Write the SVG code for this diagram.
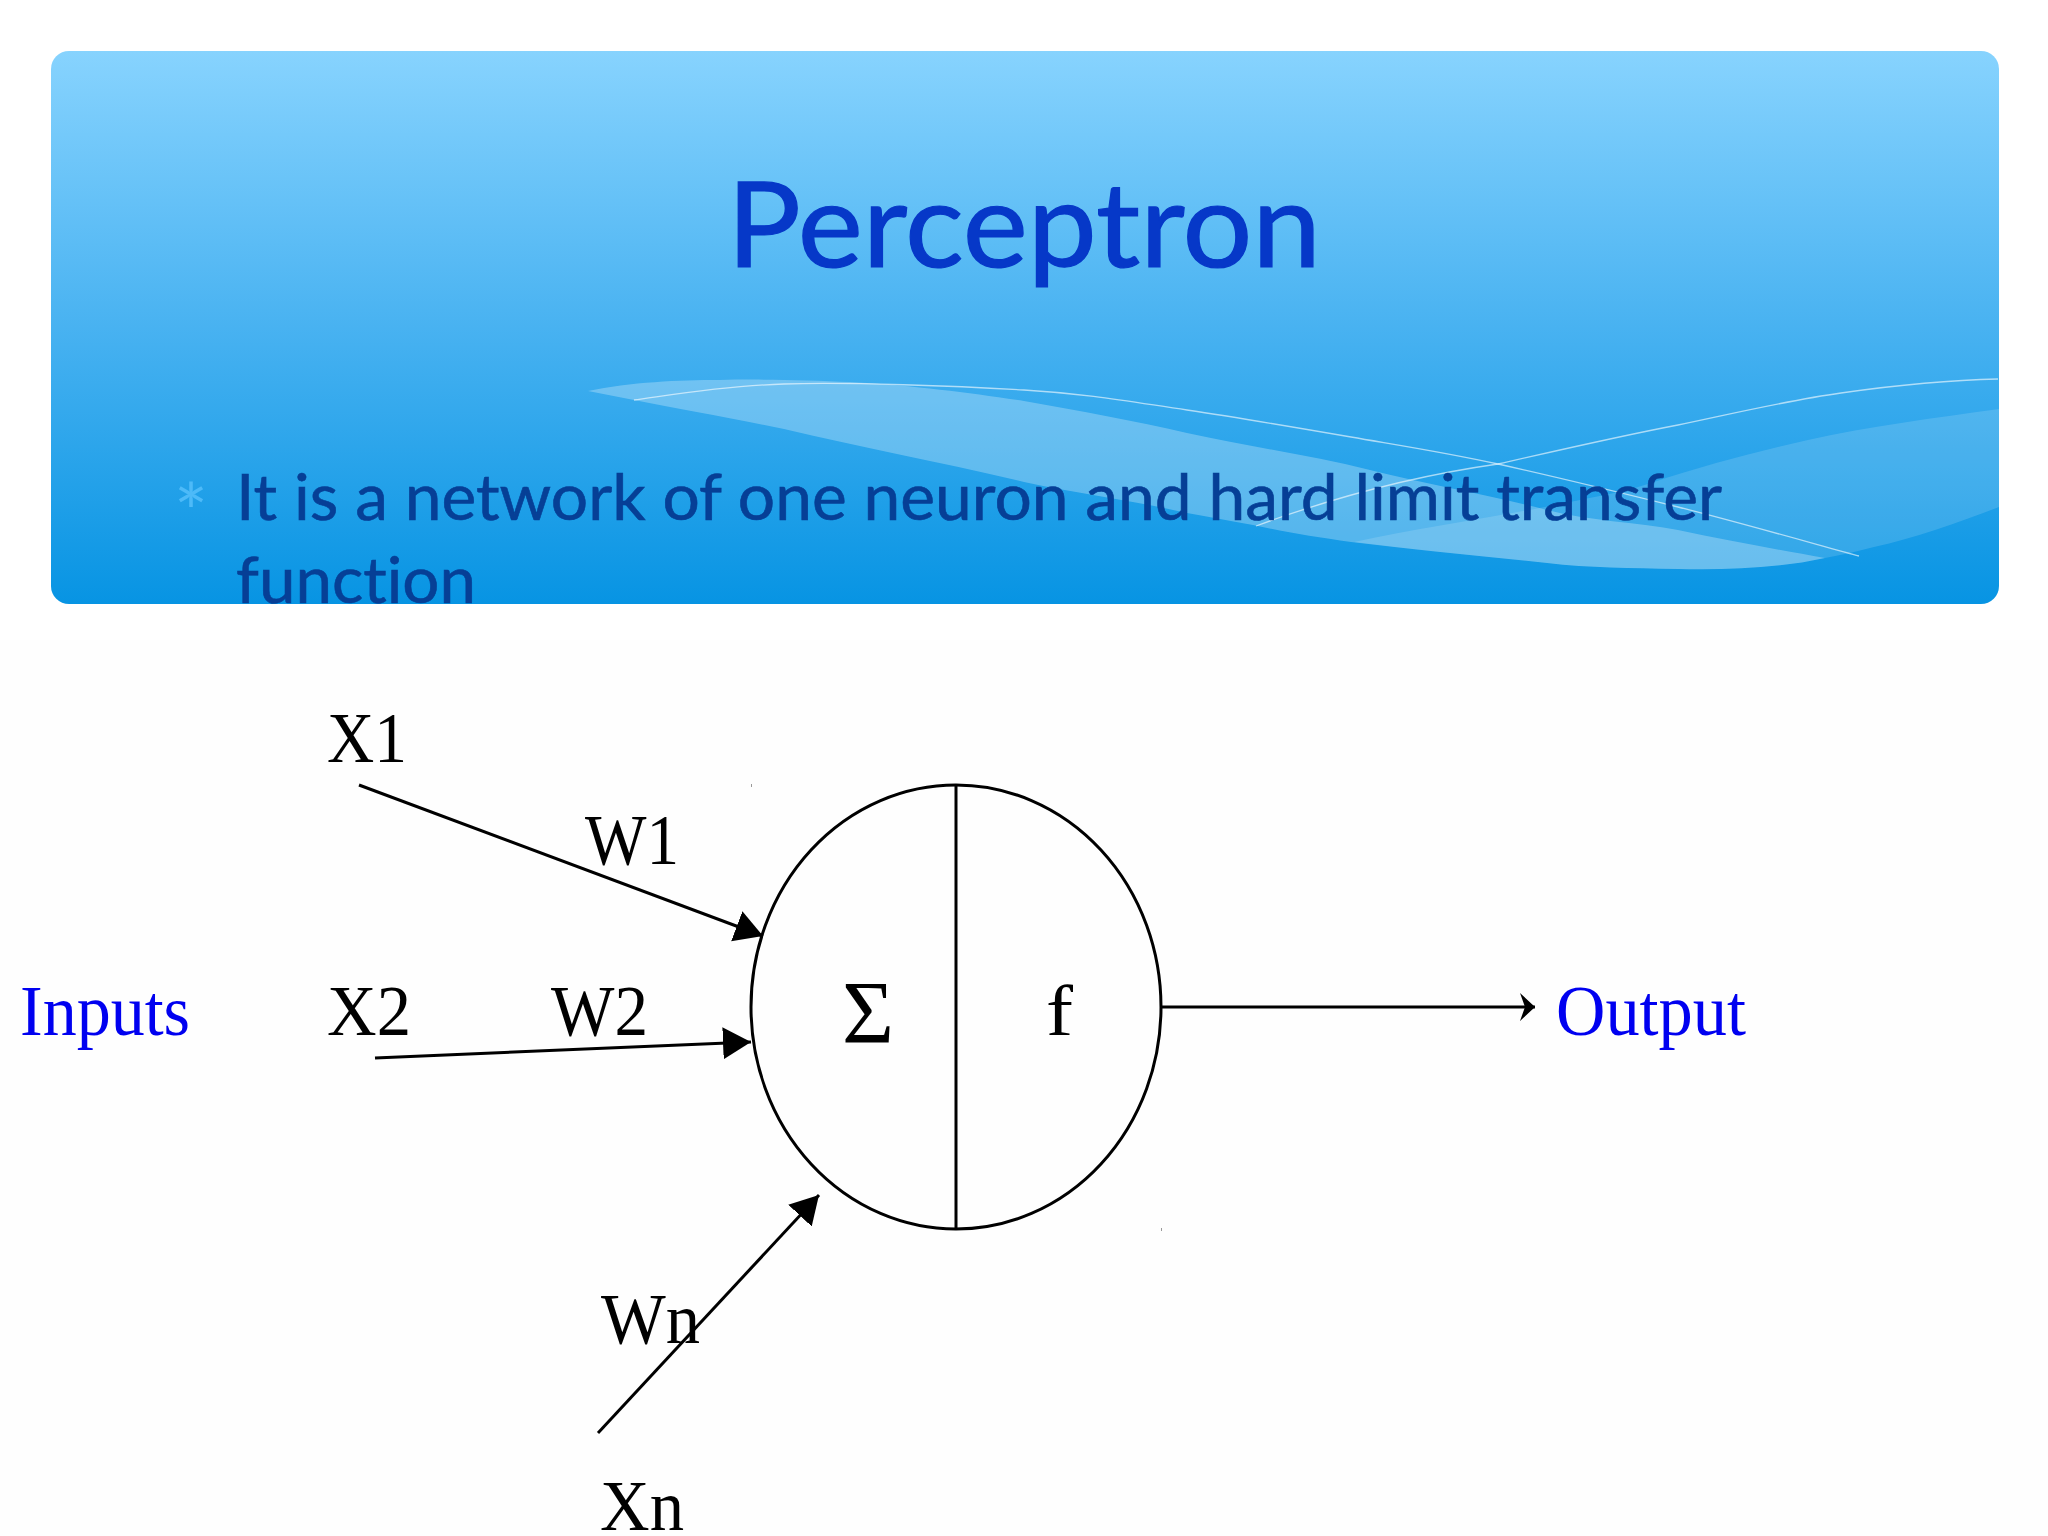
<svg xmlns="http://www.w3.org/2000/svg" width="2048" height="1536" viewBox="0 0 2048 1536">
<style>
.s{font-family:"Liberation Serif","Times New Roman",serif;font-size:71px;fill:#000}
.b{fill:#0000f0}
.c{fill:none;stroke:#000;stroke-width:3}
.wave{fill:#fff}
.thin{fill:none;stroke:#fff;stroke-width:1.3;stroke-opacity:.6}
.l{font-family:Lato,"Noto Sans",sans-serif;font-variant-ligatures:none}
</style>
<defs>
<linearGradient id="g" x1="0" y1="0" x2="0" y2="1">
<stop offset="0" stop-color="#87d3fe"/><stop offset=".5" stop-color="#48b2f1"/><stop offset="1" stop-color="#0794e3"/>
</linearGradient>
<clipPath id="bc"><rect x="51" y="51" width="1948" height="553" rx="18"/></clipPath>
<marker id="ah" markerUnits="userSpaceOnUse" markerWidth="30" markerHeight="34" refX="28" refY="17" orient="auto"><path d="M0 1L28 17L0 33Z" fill="#000"/></marker>
<marker id="oh" markerUnits="userSpaceOnUse" markerWidth="20" markerHeight="32" refX="17" refY="15" orient="auto"><path d="M2 1L17 15L2 29L7 15Z" fill="#000"/></marker>
</defs>
<rect width="2048" height="1536" fill="#fff"/>
<rect x="0" y="640" width="2048" height="896" fill="#fefefe"/>
<g id="banner">
<rect x="51" y="51" width="1948" height="553" rx="18" fill="url(#g)"/>
<g clip-path="url(#bc)">
<path class="wave" fill-opacity=".27" d="M588 391C630 382 680 380 719 380C760 379 810 380 850 382C920 386 970 393 1024 401C1080 411 1135 421 1187 433C1250 447 1310 455 1370 470C1430 485 1490 495 1547 510C1590 521 1635 522 1678 530C1730 541 1780 550 1825 558C1780 568 1730 570 1678 569C1630 568 1590 568 1547 563C1480 556 1415 550 1351 542C1315 537 1285 532 1253 525C1230 521 1210 517 1187 513C1130 500 1080 494 1024 482C940 462 860 447 784 429C730 418 680 409 634 400Z"/>
<path class="wave" fill-opacity=".14" d="M1354 542C1430 526 1510 515 1580 500C1605 495 1630 490 1651 483C1705 465 1755 452 1808 440C1870 426 1935 418 1999 409V507C1960 522 1915 538 1874 547C1858 551 1842 555 1825 558C1780 568 1730 570 1678 569C1630 568 1590 568 1547 563C1480 556 1415 550 1354 542Z"/>
<path class="thin" d="M634 400C659 397 719 386 784 384C849 382 957 386 1024 390C1091 394 1132 402 1187 410C1241 418 1299 428 1351 437C1403 446 1443 452 1498 464C1552 476 1618 492 1678 507C1738 522 1829 548 1859 556"/>
<path class="thin" d="M1256 526C1340 495 1420 475 1498 464C1560 450 1620 436 1678 425C1740 412 1790 400 1841 393C1890 386 1950 380 1998 379"/>
</g>
</g>
<g id="title"><text class="l" x="1024" y="267" text-anchor="middle" textLength="594" lengthAdjust="spacingAndGlyphs" font-size="118" fill="#0638c8" stroke="#0638c8" stroke-width="1.2">Perceptron</text></g>
<g id="body" class="l" font-size="64" fill="#063f96">
<text x="174" y="541" font-size="80" fill="#4dbaf8">*</text>
<text x="236" y="520" textLength="1486" lengthAdjust="spacingAndGlyphs" stroke="#063f96" stroke-width=".6">It is a network of one neuron and hard limit transfer</text>
<text x="236" y="603" textLength="240" lengthAdjust="spacingAndGlyphs" stroke="#063f96" stroke-width=".6">function</text>
</g>
<g id="connectors">
<line class="c" x1="359" y1="785" x2="763" y2="936" marker-end="url(#ah)"/>
<line class="c" x1="375" y1="1058" x2="751" y2="1042" marker-end="url(#ah)"/>
<line class="c" x1="598" y1="1433" x2="819" y2="1195" marker-end="url(#ah)"/>
<line class="c" x1="1160" y1="1007" x2="1535" y2="1007" marker-end="url(#oh)"/>
</g>
<g id="neuron">
<ellipse class="c" cx="956" cy="1007" rx="205" ry="222"/>
<line class="c" x1="956" y1="785" x2="956" y2="1229"/>
<text class="s" x="842" y="1042" textLength="52" lengthAdjust="spacingAndGlyphs" style="font-size:89px">Σ</text>
<text class="s" x="1046" y="1035" textLength="27" lengthAdjust="spacingAndGlyphs">f</text>
<rect x="751" y="784" width="1" height="3" fill="#999"/>
<rect x="1161" y="1228" width="1" height="3" fill="#999"/>
</g>
<g id="labels">
<text class="s" x="327" y="762" textLength="80" lengthAdjust="spacingAndGlyphs">X1</text>
<text class="s" x="585" y="864" textLength="94" lengthAdjust="spacingAndGlyphs">W1</text>
<text class="s" x="327" y="1035" textLength="84" lengthAdjust="spacingAndGlyphs">X2</text>
<text class="s" x="551" y="1035" textLength="97" lengthAdjust="spacingAndGlyphs">W2</text>
<text class="s" x="601" y="1343" textLength="99" lengthAdjust="spacingAndGlyphs">Wn</text>
<text class="s" x="600" y="1530" textLength="84" lengthAdjust="spacingAndGlyphs">Xn</text>
<text class="s b" x="20" y="1035" textLength="170" lengthAdjust="spacingAndGlyphs">Inputs</text>
<text class="s b" x="1556" y="1035" textLength="190" lengthAdjust="spacingAndGlyphs">Output</text>
</g>
</svg>
